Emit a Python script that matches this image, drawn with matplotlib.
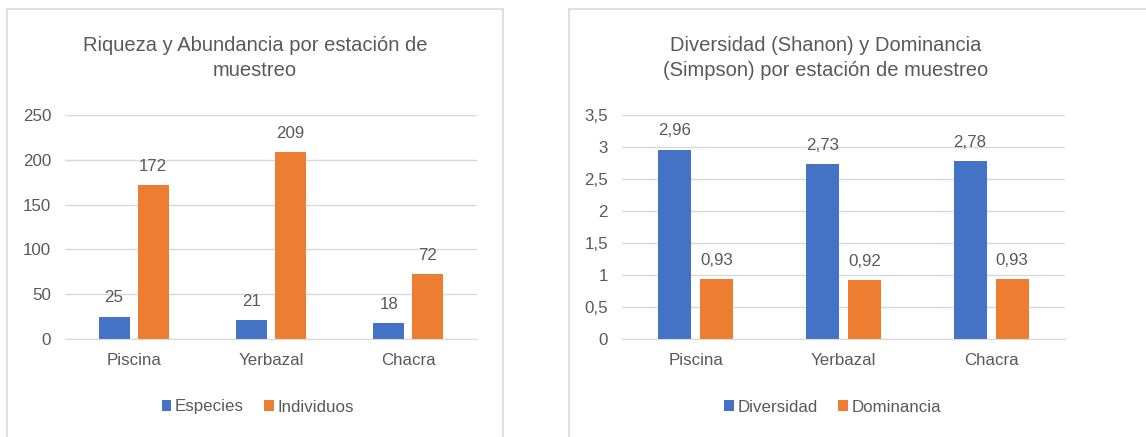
# two excel-style bar charts: riqueza/abundancia and diversidad/dominancia

import numpy as np
import matplotlib.pyplot as plt
from matplotlib.patches import Rectangle
from matplotlib.ticker import FuncFormatter

plt.rcParams['font.family'] = ['Liberation Sans', 'DejaVu Sans']

estaciones = ['Piscina', 'Yerbazal', 'Chacra']
especies = [25, 21, 18]
individuos = [172, 209, 72]
diversidad = [2.96, 2.73, 2.78]
dominancia = [0.93, 0.92, 0.93]

azul = '#4472C4'
naranja = '#ED7D31'
texto = '#595959'
gris = '#D9D9D9'

fig = plt.figure(figsize=(11.46, 4.37), dpi=100)
W, H = 1146, 437

# chart borders
fig.patches.append(Rectangle((7 / W, 1 - 460 / H), 496 / W, 451 / H,
                             transform=fig.transFigure, fill=False,
                             edgecolor=gris, linewidth=1.2))
fig.patches.append(Rectangle((569 / W, 1 - 460 / H), 600 / W, 451 / H,
                             transform=fig.transFigure, fill=False,
                             edgecolor=gris, linewidth=1.2))


def barras(ax, s1, s2, ymax, step, fmt, labels):
    x = np.arange(len(estaciones))
    w = 0.225
    g = 0.06
    b1 = ax.bar(x - (w + g) / 2, s1, w, color=azul, label=labels[0])
    b2 = ax.bar(x + (w + g) / 2, s2, w, color=naranja, label=labels[1])
    for bars, vals in ((b1, s1), (b2, s2)):
        for r, v in zip(bars, vals):
            ax.annotate(fmt(v), (r.get_x() + r.get_width() / 2, r.get_height()),
                        xytext=(0, 8), textcoords='offset points',
                        ha='center', va='bottom', fontsize=12.2, color=texto)
    ax.set_xlim(-0.5, len(estaciones) - 0.5)
    ax.set_ylim(0, ymax)
    ax.set_yticks(np.arange(0, ymax + step / 2, step))
    ax.set_xticks(x)
    ax.set_xticklabels(estaciones)
    ax.grid(axis='y', color=gris, linewidth=1)
    ax.set_axisbelow(True)
    for s in ['top', 'right', 'left']:
        ax.spines[s].set_visible(False)
    ax.spines['bottom'].set_color(gris)
    ax.tick_params(length=0, labelsize=12.2, labelcolor=texto)
    ax.tick_params(axis='y', pad=10)
    ax.tick_params(axis='x', pad=10)


ax1 = fig.add_axes([65 / W, 1 - 339 / H, 412 / W, 224 / H])
barras(ax1, especies, individuos, 250, 50, lambda v: f'{v}',
       ['Especies', 'Individuos'])

ax2 = fig.add_axes([622 / W, 1 - 339 / H, 443 / W, 224 / H])
barras(ax2, diversidad, dominancia, 3.5, 0.5, lambda v: f'{v:.2f}'.replace('.', ','),
       ['Diversidad', 'Dominancia'])
ax2.yaxis.set_major_formatter(FuncFormatter(lambda v, p: f'{v:g}'.replace('.', ',')))

fig.text(255 / W, 1 - 58 / H, 'Riqueza y Abundancia por estación de\nmuestreo',
         ha='center', va='center', fontsize=14.5, color=texto, linespacing=1.45)
fig.text(826 / W, 1 - 58 / H, 'Diversidad (Shanon) y Dominancia\n(Simpson) por estación de muestreo',
         ha='center', va='center', fontsize=14.5, color=texto, linespacing=1.45)

for ax, cx in ((ax1, 258), (ax2, 833)):
    ax.legend(loc='center', bbox_to_anchor=(cx / W, 1 - 407 / H),
              bbox_transform=fig.transFigure, ncol=2, frameon=False,
              fontsize=12.2, labelcolor=texto, handlelength=0.55, handleheight=0.55,
              handletextpad=0.25, columnspacing=1.2)

plt.savefig('out.png', dpi=100)
